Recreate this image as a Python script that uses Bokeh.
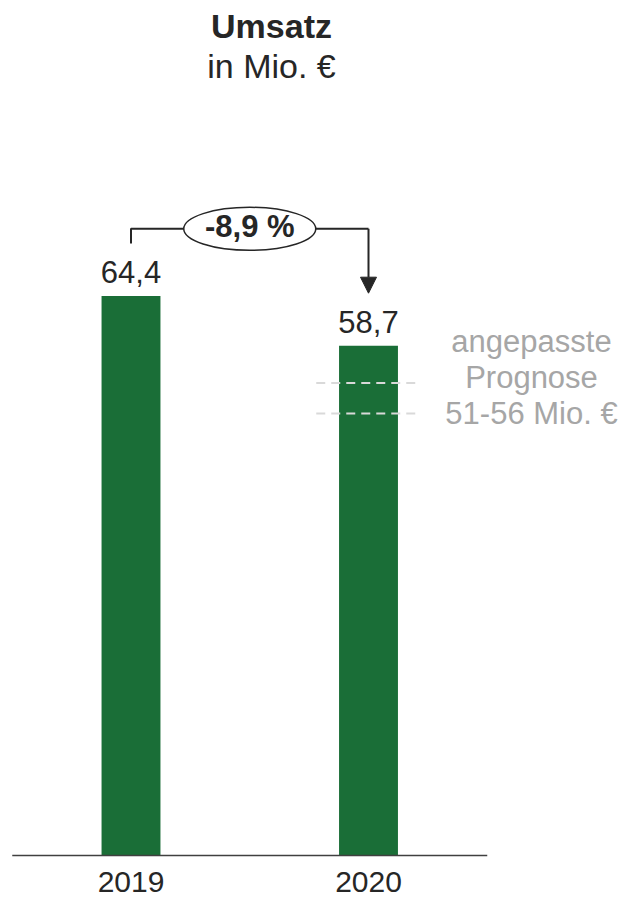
from bokeh.plotting import figure
from bokeh.models import Range1d, Arrow, NormalHead
from bokeh.core.properties import value
from bokeh.embed import file_html
from bokeh.resources import INLINE

# ---- data ----
years = ["2019", "2020"]
revenue = [64.4, 58.7]
value_labels = ["64,4", "58,7"]
forecast_levels = [50.9, 54.4]
forecast_text = ["angepasste", "Prognose", "51-56 Mio. €"]
title_lines = ["Umsatz", "in Mio. €"]

change = (revenue[1] / revenue[0] - 1) * 100
change_label = f"{change:.1f} %".replace(".", ",")

# ---- layout constants (figure pixels) ----
W, H = 626, 900
PX_PER_X = 237.5
PX_PER_Y = 8.686
X0_PX = 130.5   # figure px of x = 0
Y0_PX = 855     # figure px (from top) of y = 0

x_start = -X0_PX / PX_PER_X
x_end = x_start + W / PX_PER_X
y_end = Y0_PX / PX_PER_Y
y_start = y_end - H / PX_PER_Y


def ydata(py):
    return (Y0_PX - py) / PX_PER_Y


def xdata(px):
    return (px - X0_PX) / PX_PER_X


FONT = value("Liberation Sans")
DARK = "#262626"
GREEN = "#1A6E37"
GRAY = "#A6A6A6"

p = figure(width=W, height=H, x_range=Range1d(x_start, x_end),
           y_range=Range1d(y_start, y_end), output_backend="svg",
           toolbar_location=None, min_border=0,
           x_axis_type=None, y_axis_type=None)
p.grid.visible = False
p.outline_line_color = None
p.background_fill_color = "white"
p.border_fill_color = "white"

xs = list(range(len(years)))

# bars
p.vbar(x=xs, top=revenue, bottom=0, width=0.248, fill_color=GREEN,
       line_color=None)

# baseline
p.segment(x0=[-0.5], y0=[0], x1=[len(years) - 0.5], y1=[0],
          line_color="#404040", line_width=1.5)

# forecast dashes
n = len(forecast_levels)
p.segment(x0=[xs[1] - 0.22] * n, x1=[xs[1] + 0.2] * n,
          y0=forecast_levels, y1=forecast_levels,
          line_color="#D9D9D9", line_width=2, line_dash="9 6")

# value labels
p.text(x=xs, y=revenue, text=value_labels, y_offset=-24,
       text_align="center", text_baseline="middle",
       text_font=FONT, text_font_size="31px", text_color=DARK)

# category labels
p.text(x=xs, y=[0] * len(xs), text=years, y_offset=26,
       text_align="center", text_baseline="middle",
       text_font=FONT, text_font_size="30px", text_color=DARK)

# bracket with arrow
bracket_y = ydata(228.3)
left_bottom = ydata(243)
tip = ydata(292.7)
p.line(x=[xs[0], xs[0], xs[1]], y=[left_bottom, bracket_y, bracket_y],
       line_color=DARK, line_width=2)
p.add_layout(Arrow(x_start=xs[1], y_start=bracket_y, x_end=xs[1], y_end=tip,
                   line_color=DARK, line_width=2,
                   end=NormalHead(size=16, fill_color=DARK, line_color=DARK, line_width=1)))

# ellipse with change
p.ellipse(x=[0.5], y=[bracket_y], width=132, height=43,
          width_units="screen", height_units="screen",
          fill_color="white", line_color=DARK, line_width=1.5)
p.text(x=[0.5], y=[bracket_y], text=[change_label], y_offset=-2,
       text_align="center", text_baseline="middle",
       text_font=FONT, text_font_size="31px", text_font_style="bold",
       text_color=DARK)

# title
tx = xdata(271)
p.text(x=[tx], y=[ydata(25.8)], text=[title_lines[0]], text_align="center",
       text_baseline="middle", text_font=FONT, text_font_size="34px",
       text_font_style="bold", text_color=DARK)
p.text(x=[tx], y=[ydata(65.8)], text=[title_lines[1]], text_align="center",
       text_baseline="middle", text_font=FONT, text_font_size="34px",
       text_color=DARK)

# forecast annotation
ax = xdata(531)
p.text(x=[ax] * 3, y=[ydata(341.2), ydata(376.7), ydata(412.5)], text=forecast_text,
       text_align="center", text_baseline="middle", text_font=FONT,
       text_font_size="31px", text_color=GRAY)

open("out.html", "w").write(file_html(p, INLINE))
